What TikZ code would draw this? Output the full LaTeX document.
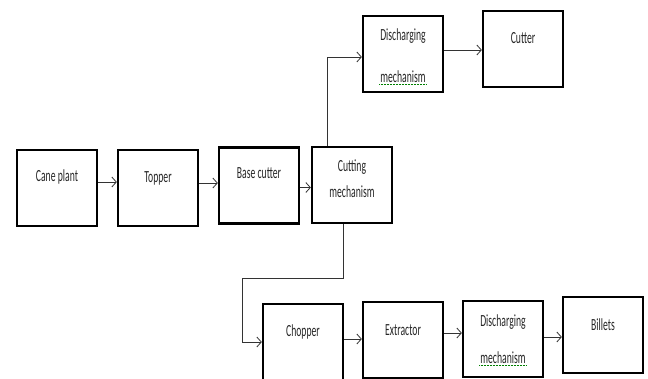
\documentclass[tikz,border=0pt]{standalone}
\usepackage{fontspec}
\setmainfont{Carlito}[FakeStretch=0.57]
\usetikzlibrary{arrows.meta, positioning}
\tikzset{
  blk/.style  = {draw, line width=2.3pt, minimum width=80pt, minimum height=76pt, inner sep=0pt},
  lbl/.style  = {font=\fontsize{17}{20}\selectfont, text=black!85, inner sep=1pt},
  conn/.style = {-{Straight Barb[length=4.5pt, width=10pt]}, line width=0.8pt, black!80},
  spell/.style = {green!50!black, densely dotted, line width=0.5pt},
}

\begin{document}
\begin{tikzpicture}[x=1pt, y=-1pt]
  \useasboundingbox (0,0) rectangle (648,378);
  % top branch
  \node[blk] (disch) at (403,54) {};
  \node[blk] (cutter) at (523,49) {};
  \node[lbl] (disch-a) at (403,36) {Discharging};
  \node[lbl] (disch-b) at (403,77) {mechanism};
  \node[lbl] (cutter-t) at (523,38) {Cutter};
  \draw[spell] (disch-b.south west) -- (disch-b.south east);
  % main row
  \node[blk] (cane) at (57,188) {};
  \node[blk] (topper) at (158,188) {};
  \node[blk] (base) at (259,185.5) {};
  \node[blk] (cut) at (352,185) {};
  \node[lbl] (cane-t) at (57,177) {Cane plant};
  \node[lbl] (topper-t) at (158,178) {Topper};
  \node[lbl] (base-t) at (259,173) {Base cutter};
  \node[lbl] (cut-a) at (352,167) {Cutting};
  \node[lbl] (cut-b) at (352,192) {mechanism};
  % bottom branch
  \node[blk] (chop) at (303,342) {};
  \node[blk] (extr) at (403,340) {};
  \node[blk] (dis2) at (503,339) {};
  \node[blk] (bill) at (603,335) {};
  \node[lbl] (chop-t) at (303,332) {Chopper};
  \node[lbl] (extr-t) at (403,330) {Extractor};
  \node[lbl] (dis2-a) at (503,322) {Discharging};
  \node[lbl] (dis2-b) at (503,358) {mechanism};
  \node[lbl] (bill-t) at (603,325) {Billets};
  \draw[spell] (dis2-b.south west) -- (dis2-b.south east);
  % connectors
  \draw[conn] ([yshift=6pt]cane.east) -- ([yshift=6pt]cane.east -| topper.west);
  \draw[conn] ([yshift=5pt]topper.east) -- ([yshift=5pt]topper.east -| base.west);
  \draw[conn] ([yshift=-2pt]base.east) -- ([yshift=-2pt]base.east -| cut.west);
  \draw[conn] ([xshift=-25pt]cut.north) |- ([yshift=-3pt]disch.west);
  \draw[conn] ([yshift=4pt]disch.east) -- ([yshift=4pt]disch.east -| cutter.west);
  \coordinate (bend) at (242,278);
  \draw[conn] ([xshift=-9pt]cut.south) |- (bend) |- (chop.west);
  \draw[conn] ([yshift=3pt]chop.east) -- ([yshift=3pt]chop.east -| extr.west);
  \draw[conn] ([yshift=7pt]extr.east) -- ([yshift=7pt]extr.east -| dis2.west);
  \draw[conn] ([yshift=2pt]dis2.east) -- ([yshift=2pt]dis2.east -| bill.west);
\end{tikzpicture}
\end{document}
